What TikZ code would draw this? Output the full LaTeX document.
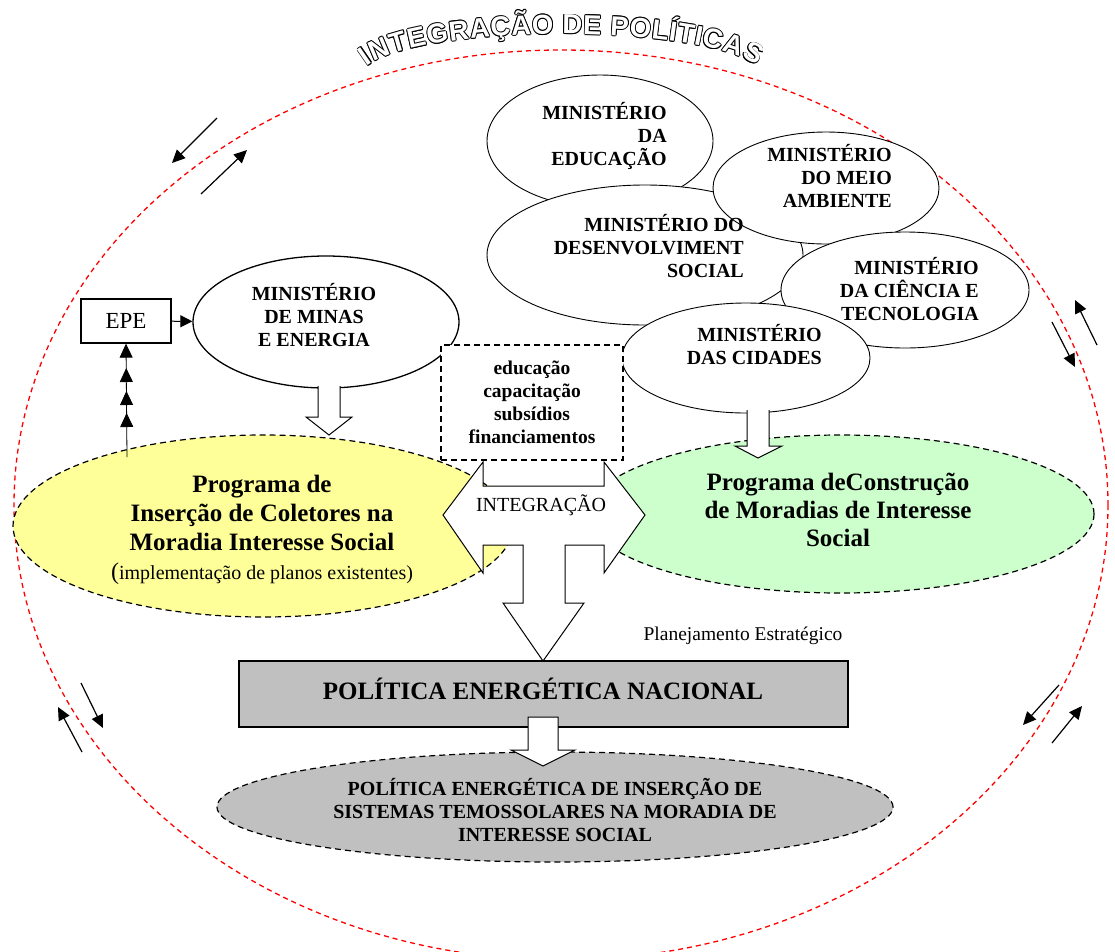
\documentclass[tikz,border=0pt]{standalone}
\usepackage{fontspec}
\setmainfont{Liberation Serif}
\newfontfamily\titlesans{Liberation Sans}
\usetikzlibrary{shapes.geometric,arrows.meta,decorations.markings}
\definecolor{ylw}{HTML}{FFFF99}
\definecolor{grn}{HTML}{CCFFCC}
\definecolor{gry}{HTML}{C0C0C0}
\newcommand\olc[3]{\makebox[0pt][l]{\kern#1\raisebox{#2}{\textcolor{black}{#3}}}}
\newcommand\outl[1]{\olc{.9pt}{0pt}{#1}\olc{-.9pt}{0pt}{#1}\olc{0pt}{.9pt}{#1}\olc{0pt}{-.9pt}{#1}\olc{.64pt}{.64pt}{#1}\olc{-.64pt}{.64pt}{#1}\olc{.64pt}{-.64pt}{#1}\olc{-.64pt}{-.64pt}{#1}\textcolor{white}{#1}}
\begin{document}
\begin{tikzpicture}[x=1pt,y=-1pt,
  mell/.style={draw, ellipse, fill=white, line width=0.9pt, inner sep=0pt},
  mtxt/.style={font=\bfseries\fontsize{20}{23}\selectfont, inner sep=0pt},
  progell/.style={draw, ellipse, line width=1.2pt, dash pattern=on 6pt off 4pt, inner sep=0pt},
  sidearrow/.style={line width=1.2pt, -{Triangle[length=13pt,width=12pt]}},
  blockarr/.style={draw, fill=white, line width=1pt, line join=miter},
  titlech/.style={transform shape, anchor=base, inner sep=0pt, font=\titlesans\bfseries\fontsize{27.5}{27.5}\selectfont},
]
\useasboundingbox (0,0) rectangle (1115,951);
% big red dashed ellipse
\draw[red, line width=1.3pt, dash pattern=on 5pt off 4pt] (561,505) ellipse [x radius=547, y radius=455];
% title along arc
\foreach \ch/\pos [count=\i, evaluate=\pos as \fr using \pos/14.001] in {I/0.139,N/0.639,T/1.3055,E/1.9445,G/2.667,R/3.417,A/4.139,Ç/4.861,Ã/5.583,O/6.333,D/7.361,E/8.0555,P/9.0005,O/9.723,L/10.4175,Í/10.862,T/11.3065,I/11.751,C/12.251,A/12.973,S/13.6675}{
  \path[decorate,decoration={markings,mark=at position \fr with {\node[titlech] (tl\i) {\outl{\ch}};}}]
    (562,77) ++(194:201 and 43) arc[start angle=194,end angle=346,x radius=201,y radius=43];
}
% side arrows
\draw[sidearrow] (217,118) -- (172,163);
\draw[sidearrow] (201,194) -- (247,150);
\draw[sidearrow] (81,683) -- (103,728);
\draw[sidearrow] (82,752) -- (58,707);
\draw[sidearrow] (1052,322) -- (1075,367);
\draw[sidearrow] (1097,345) -- (1075,300);
\draw[sidearrow] (1059,685) -- (1023,725);
\draw[sidearrow] (1052,743) -- (1082,706);
% ministries
\node[mell, minimum width=226, minimum height=132] (educ) at (600,141) {};
\node[mell, minimum width=316, minimum height=140] (desv) at (645,255) {};
\node[mell, minimum width=226, minimum height=112] (meio) at (826,188) {};
\node[mell, minimum width=248, minimum height=116] (cien) at (905,290) {};
\node[mell, minimum width=248, minimum height=110] (cida) at (746,358) {};
\node[mtxt, anchor=east, align=right] (educt) at (667,136) {MINISTÉRIO\\DA\\EDUCAÇÃO};
\node[mtxt, anchor=east, align=right] (desvt) at (744,246) {MINISTÉRIO DO\\DESENVOLVIMENT\\SOCIAL};
\node[mtxt, anchor=east, align=right] (meiot) at (892,176) {MINISTÉRIO\\DO MEIO\\AMBIENTE};
\node[mtxt, anchor=east, align=right] (cient) at (979,289) {MINISTÉRIO\\DA CIÊNCIA E\\TECNOLOGIA};
\node[mtxt, anchor=east, align=right] (cidat) at (822,345) {MINISTÉRIO\\DAS CIDADES};
% Minas e energia and EPE
\node[mell, line width=1.3pt, minimum width=266, minimum height=132] (minas) at (326,322) {};
\node[mtxt, align=center] (minast) at (314,315) {MINISTÉRIO\\DE MINAS\\E ENERGIA};
\node[draw, line width=1.3pt, fill=white, minimum width=90, minimum height=44, inner sep=0pt, font=\fontsize{23}{23}\selectfont] (epe) at (126,321) {EPE};
\draw[line width=1pt, -{Triangle[length=12pt,width=12pt]}] (epe) -- (minas);
% programme ellipses
\node[progell, fill=ylw, minimum width=500, minimum height=182] (ylwe) at (263,526) {};
\node[progell, fill=grn, minimum width=506, minimum height=158] (grne) at (841,514) {};
\node[inner sep=0pt, align=center, font=\bfseries\fontsize{25}{29}\selectfont] (ylwt) at (262,530) {Programa de\\Inserção de Coletores na\\Moradia Interesse Social\\{\mdseries\fontsize{20}{29}\selectfont{\fontsize{24}{29}\selectfont(}implementação de planos existentes)}};
\node[inner sep=0pt, align=center, font=\bfseries\fontsize{25}{28}\selectfont] (grnt) at (838,510) {Programa deConstrução\\de Moradias de Interesse\\Social};
% EPE feed line with repeated heads
\coordinate (ylwtop) at (127,457);
\draw[line width=0.8pt, -{Triangle[length=14pt,width=13pt]},
  postaction={decorate, decoration={markings,
    mark=at position 44pt with {\arrow{Triangle[length=14pt,width=13pt]}},
    mark=at position 66pt with {\arrow{Triangle[length=14pt,width=13pt]}},
    mark=at position 89pt with {\arrow{Triangle[length=14pt,width=13pt]}}}}]
  (ylwtop) -- (epe.south);
% block arrows into programmes
\filldraw[blockarr] (318,386) -- (318,417) -- (306,417) -- (329,435) -- (352,417) -- (340,417) -- (340,386);
\filldraw[blockarr] (747,410) -- (747,446) -- (735,446) -- (758,458) -- (782,446) -- (769,446) -- (769,410);
% dashed instruments box
\node[draw, fill=white, line width=1.2pt, dash pattern=on 6pt off 4pt, minimum width=182, minimum height=115, inner sep=0pt, align=center, font=\bfseries\fontsize{19.5}{23}\selectfont] (ibox) at (532,402.5) {educação\\capacitação\\subsídios\\financiamentos};
% integration arrow
\filldraw[blockarr] (483,486) -- (483,462) -- (443,515) -- (483,573) -- (483,545) -- (523,545) -- (523,603) -- (503,603) -- (543,661) -- (584,603) -- (565,603) -- (565,545) -- (604,545) -- (604,573) -- (645,515) -- (604,462) -- (604,486) -- cycle;
\node[inner sep=0pt, font=\fontsize{20}{20}\selectfont] (integ) at (541,505) {INTEGRAÇÃO};
\node[inner sep=0pt, font=\fontsize{19.5}{20}\selectfont] (plan) at (743,636) {Planejamento Estratégico};
% national policy
\node[draw, fill=gry, line width=1.6pt, minimum width=609, minimum height=66, inner sep=0pt] (pen) at (543.5,694) {};
\node[inner sep=0pt, font=\bfseries\fontsize{25}{25}\selectfont] (pent) at (543,689) {POLÍTICA ENERGÉTICA NACIONAL};
\node[progell, fill=gry, minimum width=676, minimum height=110] (pei) at (555,807) {};
\node[inner sep=0pt, align=center, font=\bfseries\fontsize{20}{23}\selectfont] (peit) at (555,810) {POLÍTICA ENERGÉTICA DE INSERÇÃO DE\\SISTEMAS TEMOSSOLARES NA MORADIA DE\\INTERESSE SOCIAL};
\filldraw[blockarr] (528,717) -- (528,750) -- (511,750) -- (543,766) -- (575,750) -- (558,750) -- (558,717) -- cycle;
\end{tikzpicture}
\end{document}
